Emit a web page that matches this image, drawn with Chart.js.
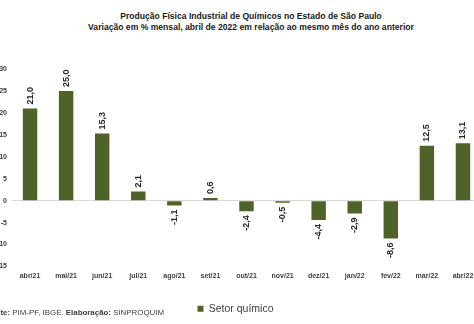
<!DOCTYPE html>
<html>
<head>
<meta charset="utf-8">
<script src="https://cdn.jsdelivr.net/npm/chart.js@4/dist/chart.umd.min.js"></script>
<style>
  body { margin: 0; background: #fff; width: 474px; height: 324px; overflow: hidden; position: relative; font-family: "Liberation Sans", Arial, sans-serif; }
  #wrap { position: absolute; left: -10px; top: 0; width: 491px; height: 324px; }
  .title { position: absolute; left: 0; width: 502px; text-align: center; font-weight: bold; font-size: 8.6px; color: #1a1a1a; }
  #source { position: absolute; left: -14px; top: 308px; font-size: 7.9px; color: #404040; white-space: nowrap; }
</style>
</head>
<body>
<div class="title" style="top:11px">Produção Física Industrial de Químicos no Estado de São Paulo</div>
<div class="title" style="top:22px">Variação em % mensal, abril de 2022 em relação ao mesmo mês do ano anterior</div>
<div id="wrap"><canvas id="chart" width="491" height="324"></canvas></div>
<div id="source"><b>Fonte:</b> PIM-PF, IBGE. <b>Elaboração:</b> SINPROQUIM</div>
<script>
const months = ['abr/21', 'mai/21', 'jun/21', 'jul/21', 'ago/21', 'set/21', 'out/21', 'nov/21', 'dez/21', 'jan/22', 'fev/22', 'mar/22', 'abr/22'];
const setorQuimico = [21.0, 25.0, 15.3, 2.1, -1.1, 0.6, -2.4, -0.5, -4.4, -2.9, -8.6, 12.5, 13.1];
const yTicks = [30, 25, 20, 15, 10, 5, 0, -5, -10, -15];

const barColor = '#4f6228';

// ---------- value labels (rotated) ----------
const barLabels = {
  id: 'barLabels',
  afterDatasetsDraw(chart) {
    const ctx = chart.ctx;
    const meta = chart.getDatasetMeta(0);
    ctx.save();
    ctx.font = 'bold 9px "Liberation Sans", Arial, sans-serif';
    ctx.fillStyle = '#262626';
    ctx.textBaseline = 'middle';
    meta.data.forEach((bar, i) => {
      const v = setorQuimico[i];
      const txt = v.toFixed(1).replace('.', ',');
      ctx.save();
      if (v >= 0) {
        ctx.translate(bar.x, bar.y - 4);
        ctx.rotate(-Math.PI / 2);
        ctx.textAlign = 'left';
      } else {
        ctx.translate(bar.x, bar.y + 4);
        ctx.rotate(-Math.PI / 2);
        ctx.textAlign = 'right';
      }
      ctx.fillText(txt, 0, 0);
      ctx.restore();
    });
    ctx.restore();
  }
};

new Chart(document.getElementById('chart'), {
  type: 'bar',
  data: {
    labels: months,
    datasets: [{
      label: 'Setor químico',
      data: setorQuimico,
      backgroundColor: barColor,
      borderWidth: 0,
      barPercentage: 0.4,
      categoryPercentage: 1
    }]
  },
  options: {
    responsive: false,
    animation: false,
    layout: { padding: { top: 69, left: 0, right: 0, bottom: 0 } },
    plugins: {
      legend: {
        display: true,
        position: 'bottom',
        labels: {
          boxWidth: 6, boxHeight: 6, padding: 10,
          color: '#404040',
          font: { family: '"Liberation Sans", Arial, sans-serif', size: 10.5 }
        }
      },
      tooltip: { enabled: false },
      title: { display: false }
    },
    scales: {
      x: {
        grid: { display: false, drawTicks: false },
        border: { display: false },
        ticks: {
          padding: 5, maxRotation: 0, autoSkip: false,
          color: '#404040',
          font: { family: '"Liberation Sans", Arial, sans-serif', size: 7, weight: 'bold' }
        },
        afterFit(scale) { scale.height = 27; }
      },
      y: {
        min: -15, max: 30,
        afterBuildTicks(scale) { scale.ticks = yTicks.map(v => ({ value: v })); },
        grid: {
          drawTicks: false,
          color: c => (c.tick && c.tick.value === 0) ? '#d9d9d9' : 'transparent'
        },
        border: { display: false },
        ticks: {
          padding: 5,
          color: '#404040',
          font: { family: '"Liberation Sans", Arial, sans-serif', size: 7, weight: 'bold' }
        },
        afterFit(scale) { scale.width = 22; }
      }
    }
  },
  plugins: [barLabels]
});
</script>
</body>
</html>
